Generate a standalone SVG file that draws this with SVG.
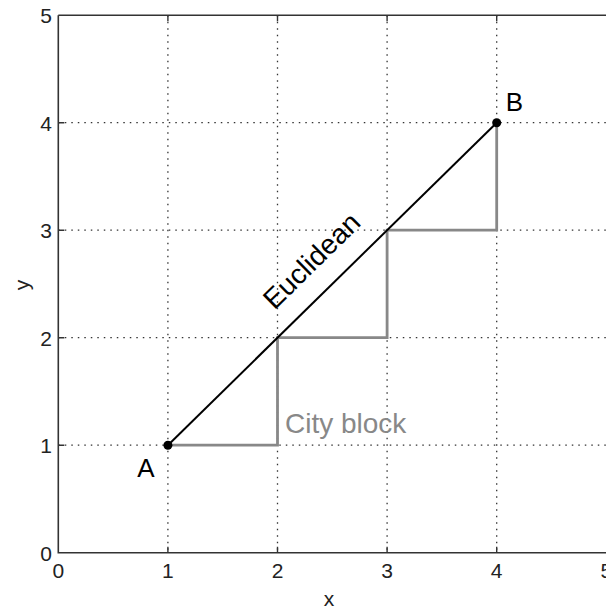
<svg xmlns="http://www.w3.org/2000/svg" width="606" height="611" viewBox="0 0 606 611">
<style>
.grid{stroke:#333;stroke-width:1.3;stroke-dasharray:1.5 5;fill:none}
.axis{stroke:#333;stroke-width:1.6;fill:none}
.tick{stroke:#333;stroke-width:1.4}
.tl{font-family:"Liberation Sans",Arial,sans-serif;font-size:21px;fill:#222}
.lbl{font-family:"Liberation Sans",Arial,sans-serif;font-size:26px;fill:#000}
</style>
<rect width="606" height="611" fill="#fff"/>
<g id="grid">
<path class="grid" d="M167.9 15.2V552.7M277.5 15.2V552.7M387.1 15.2V552.7M496.7 15.2V552.7"/>
<path class="grid" d="M58.3 445.2H606M58.3 337.7H606M58.3 230.2H606M58.3 122.7H606"/>
</g>
<g id="axes">
<path class="axis" d="M58.3 15.2H606M58.3 15.2V552.7H606"/>
<path class="tick" d="M58.3 445.2h6M58.3 337.7h6M58.3 230.2h6M58.3 122.7h6M167.9 552.7v-6M277.5 552.7v-6M387.1 552.7v-6M496.7 552.7v-6M167.9 15.2v6M277.5 15.2v6M387.1 15.2v6M496.7 15.2v6"/>
<g class="tl" text-anchor="end">
<text x="52" y="561">0</text>
<text x="52" y="453">1</text>
<text x="52" y="346">2</text>
<text x="52" y="238">3</text>
<text x="52" y="131">4</text>
<text x="52" y="23">5</text>
</g>
<g class="tl" text-anchor="middle">
<text x="58.3" y="578">0</text>
<text x="167.9" y="578">1</text>
<text x="277.5" y="578">2</text>
<text x="387.1" y="578">3</text>
<text x="496.7" y="578">4</text>
<text x="606.3" y="578">5</text>
</g>
<text class="tl" x="329" y="606" text-anchor="middle">x</text>
<text class="tl" transform="translate(29,285) rotate(-90)" text-anchor="middle">y</text>
</g>
<g id="connectors">
<path id="cityblock" d="M167.9 445.2H277.5V337.7H387.1V230.2H496.7V122.7" fill="none" stroke="#888" stroke-width="2.8"/>
<path id="euclidean" d="M167.9 445.2L496.7 122.7" fill="none" stroke="#000" stroke-width="2"/>
</g>
<g id="A">
<circle cx="167.9" cy="445.2" r="4.5" fill="#000"/>
<text class="lbl" x="146" y="477" text-anchor="middle">A</text>
</g>
<g id="B">
<circle cx="496.7" cy="122.7" r="4.5" fill="#000"/>
<text class="lbl" x="514.5" y="111" text-anchor="middle">B</text>
</g>
<text class="lbl" transform="translate(312,261) rotate(-44.45)" y="9" text-anchor="middle" style="font-size:28px">Euclidean</text>
<text class="lbl" x="285" y="433" style="font-size:28px;fill:#888">City block</text>
</svg>
